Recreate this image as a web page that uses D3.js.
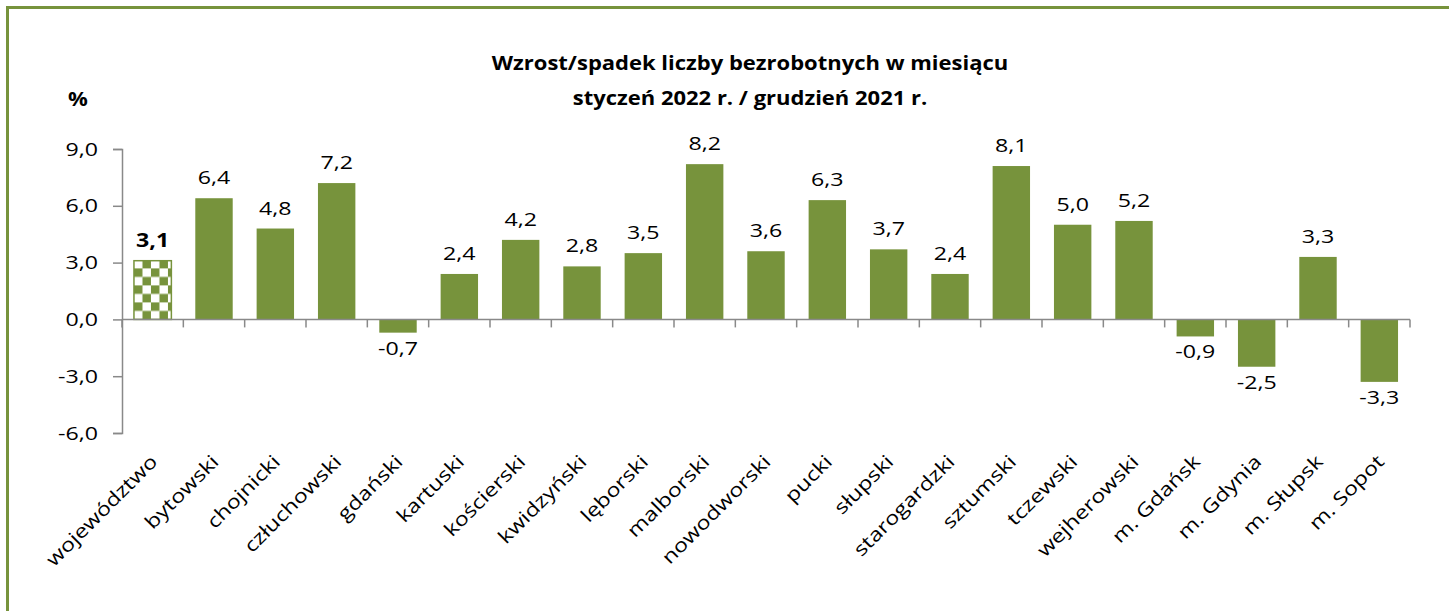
<!DOCTYPE html>
<html>
<head>
<meta charset="utf-8">
<script src="https://cdn.jsdelivr.net/npm/d3@7"></script>
<style>
  body { margin: 0; background: #fff; }
  svg { display: block; font-family: "Open Sans", sans-serif; }
</style>
</head>
<body>
<script>
const categories = ['województwo', 'bytowski', 'chojnicki', 'człuchowski', 'gdański', 'kartuski',
  'kościerski', 'kwidzyński', 'lęborski', 'malborski', 'nowodworski', 'pucki', 'słupski',
  'starogardzki', 'sztumski', 'tczewski', 'wejherowski', 'm. Gdańsk', 'm. Gdynia', 'm. Słupsk', 'm. Sopot'];
const values = [3.1, 6.4, 4.8, 7.2, -0.7, 2.4, 4.2, 2.8, 3.5, 8.2, 3.6, 6.3, 3.7, 2.4, 8.1, 5.0, 5.2,
  -0.9, -2.5, 3.3, -3.3];
const yTicks = [-6, -3, 0, 3, 6, 9];
const titleLines = ['Wzrost/spadek liczby bezrobotnych w miesiącu', 'styczeń 2022 r. / grudzień 2021 r.'];

const width = 1449;
const height = 611;
const green = '#77933C';
const axisColor = '#898989';
const sx = 1.22; // the source font is wide and low, so stretch text along its baseline
const fmt = d => d.toFixed(1).replace('.', ',');

const svg = d3.select('body').append('svg')
  .attr('width', width)
  .attr('height', height);

// frame (top and left only)
svg.append('line').attr('x1', 6).attr('y1', 7.5).attr('x2', width).attr('y2', 7.5)
  .attr('stroke', green).attr('stroke-width', 3);
svg.append('line').attr('x1', 7.5).attr('y1', 6).attr('x2', 7.5).attr('y2', height)
  .attr('stroke', green).attr('stroke-width', 3);

const x = d3.scaleBand()
  .domain(categories)
  .range([122, 1410])
  .paddingInner(0.39)
  .paddingOuter(0.195);

const y = d3.scaleLinear()
  .domain([-6, 9])
  .range([433, 149]);

const step = x.step();
const y0 = y(0);

// checker pattern for the first bar
const cell = 8.5;
const pat = svg.append('defs').append('pattern')
  .attr('id', 'checker')
  .attr('patternUnits', 'userSpaceOnUse')
  .attr('width', cell * 2).attr('height', cell * 2)
  .attr('x', x(categories[0])).attr('y', y0);
pat.append('rect').attr('width', cell * 2).attr('height', cell * 2).attr('fill', '#fff');
pat.append('rect').attr('width', cell).attr('height', cell).attr('fill', green);
pat.append('rect').attr('x', cell).attr('y', cell).attr('width', cell).attr('height', cell).attr('fill', green);

// title
svg.append('g').selectAll('text')
  .data(titleLines)
  .enter().append('text')
  .attr('transform', (d, i) => `translate(750,${70 + i * 35}) scale(1.1,1)`)
  .attr('text-anchor', 'middle')
  .attr('font-size', 20)
  .attr('font-weight', 'bold')
  .text(d => d);

svg.append('text')
  .attr('transform', 'translate(78,106) scale(1.1,1)')
  .attr('text-anchor', 'middle')
  .attr('font-size', 20)
  .attr('font-weight', 'bold')
  .text('%');

// y axis
const yAxis = svg.append('g')
  .attr('transform', 'translate(122,0)')
  .call(d3.axisLeft(y).tickValues(yTicks).tickFormat(fmt).tickSize(9).tickPadding(15));
yAxis.selectAll('path, line').attr('stroke', axisColor).attr('stroke-width', 1.5);
yAxis.selectAll('text')
  .attr('font-size', 19)
  .attr('font-family', '"Open Sans", sans-serif')
  .attr('fill', '#000')
  .attr('x', -24 / sx)
  .attr('transform', `scale(${sx},1)`);

// bars
svg.append('g').selectAll('rect')
  .data(values)
  .enter().append('rect')
  .attr('x', (d, i) => x(categories[i]))
  .attr('width', x.bandwidth())
  .attr('y', d => y(Math.max(0, d)))
  .attr('height', d => Math.abs(y(d) - y0))
  .attr('fill', (d, i) => i === 0 ? 'url(#checker)' : green)
  .attr('stroke', (d, i) => i === 0 ? green : 'none')
  .attr('stroke-width', 1.5);

// x axis line and ticks at category boundaries
svg.append('line')
  .attr('x1', 122).attr('x2', 1410)
  .attr('y1', y0).attr('y2', y0)
  .attr('stroke', axisColor).attr('stroke-width', 1.5);
svg.append('g').selectAll('line')
  .data(d3.range(categories.length + 1))
  .enter().append('line')
  .attr('x1', i => 122 + i * step).attr('x2', i => 122 + i * step)
  .attr('y1', y0).attr('y2', y0 + 8)
  .attr('stroke', axisColor).attr('stroke-width', 1.5);

// value labels
svg.append('g').selectAll('text')
  .data(values)
  .enter().append('text')
  .attr('transform', (d, i) => {
    const cx = x(categories[i]) + x.bandwidth() / 2;
    const ty = d >= 0 ? y(d) - 14 : y(d) + 22;
    return `translate(${cx},${ty}) scale(${sx},1)`;
  })
  .attr('text-anchor', 'middle')
  .attr('font-size', 19)
  .attr('font-weight', (d, i) => i === 0 ? 'bold' : 'normal')
  .text(fmt);

// category labels
svg.append('g').selectAll('text')
  .data(categories)
  .enter().append('text')
  .attr('transform', d => `translate(${x(d) + x.bandwidth() / 2 + 6},${463}) rotate(-45) scale(${sx},1)`)
  .attr('text-anchor', 'end')
  .attr('font-size', 19)
  .text(d => d);
</script>
</body>
</html>
